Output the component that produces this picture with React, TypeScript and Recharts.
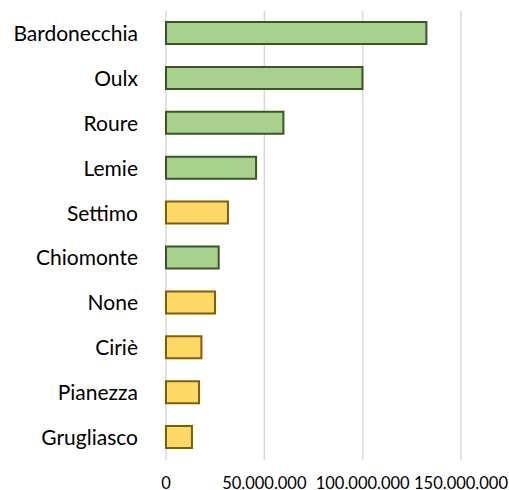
import React from 'react'
import { BarChart, Bar, XAxis, YAxis, CartesianGrid, Cell } from 'recharts'

const comuni = ['Bardonecchia', 'Oulx', 'Roure', 'Lemie', 'Settimo', 'Chiomonte', 'None', 'Ciriè', 'Pianezza', 'Grugliasco']
const valori = [132400000, 99900000, 59700000, 45800000, 31500000, 26800000, 24900000, 18000000, 16800000, 13200000]
const gruppi = ['verde', 'verde', 'verde', 'verde', 'giallo', 'verde', 'giallo', 'giallo', 'giallo', 'giallo']
const xTicks = [0, 50000000, 100000000, 150000000]

const FILL: Record<string, string> = { verde: '#a9d18e', giallo: '#ffd966' }
const STROKE: Record<string, string> = { verde: '#385723', giallo: '#7f6000' }

const data = comuni.map((nome, i) => ({ nome, valore: valori[i], gruppo: gruppi[i] }))

const formatta = (v: number) => String(v).replace(/\B(?=(\d{3})+(?!\d))/g, '.')

const App = () => {
    return (
        <div style={{ position: 'absolute', left: 0, top: 0, background: '#fff' }}>
            <BarChart
                width={509}
                height={490}
                data={data}
                layout="vertical"
                margin={{ top: 11, right: 48, left: 0, bottom: 0 }}
            >
                <CartesianGrid horizontal={false} stroke="#d9d9d9" strokeWidth={1.5} />
                <XAxis
                    type="number"
                    domain={[0, 150000000]}
                    ticks={xTicks}
                    tickFormatter={formatta}
                    axisLine={false}
                    tickLine={false}
                    tickMargin={11}
                    height={30}
                    interval={0}
                    tick={{ fill: '#000', fontSize: 16.5, fontFamily: 'Lato' }}
                />
                <YAxis
                    type="category"
                    dataKey="nome"
                    width={166}
                    axisLine={false}
                    tickLine={false}
                    tickMargin={22}
                    interval={0}
                    tick={{ fill: '#000', fontSize: 21, fontFamily: 'Lato' }}
                />
                <Bar dataKey="valore" barSize={22} strokeWidth={2} isAnimationActive={false}>
                    {data.map((d, index) => (
                        <Cell key={`cell-${index}`} fill={FILL[d.gruppo]} stroke={STROKE[d.gruppo]} />
                    ))}
                </Bar>
            </BarChart>
        </div>
    )
}

export default App
